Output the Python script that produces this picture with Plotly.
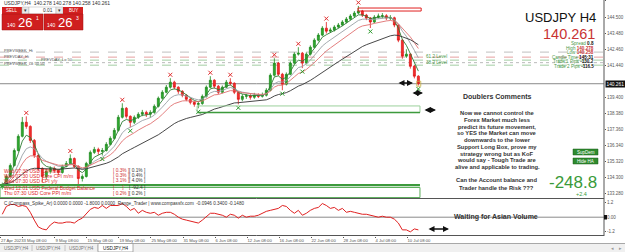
import plotly.graph_objects as go
import pandas as pd

W, H = 625, 252

# ---------------- data (12h candles) ----------------
first_open = 133.70
closes = [133.86, 134.37, 135.07, 136.02, 136.92, 137.81, 137.55, 136.66, 135.71, 134.88,
          134.37, 134.69, 134.88, 134.75, 134.62, 135.01, 135.20, 135.51, 135.01, 134.24,
          134.37, 135.20, 135.90, 136.09, 135.96, 136.02, 136.41, 136.79, 137.30, 138.13,
          138.70, 138.19, 137.81, 138.13, 138.32, 138.44, 138.32, 138.44, 138.83, 139.34,
          139.72, 140.04, 140.36, 140.04, 139.78, 139.53, 139.27, 139.08, 138.95, 139.00,
          139.46, 140.04, 140.48, 140.10, 139.72, 140.04, 140.36, 140.29, 139.72, 139.27,
          139.46, 139.50, 139.40, 139.53, 139.46, 139.53, 139.85, 140.80, 141.57, 140.86,
          140.23, 140.86, 141.57, 142.14, 142.20, 141.57, 142.14, 142.58, 143.03, 143.35,
          143.79, 143.60, 143.67, 143.86, 143.99, 144.18, 144.37, 144.56, 144.75, 144.88,
          144.62, 144.43, 144.18, 144.49, 144.56, 144.58, 144.43, 144.45, 143.99, 143.03,
          142.01, 142.14, 141.37, 140.74, 140.26]
highs = [133.98, 134.50, 135.20, 136.15, 137.05, 138.15, 138.19, 137.62, 136.75, 135.80,
         134.95, 134.85, 135.02, 135.00, 134.85, 135.12, 135.35, 135.77, 135.58, 135.08,
         134.50, 135.30, 136.02, 136.25, 136.20, 136.18, 136.55, 136.92, 137.45, 138.28,
         139.02, 138.78, 138.25, 138.25, 138.45, 138.60, 138.55, 138.58, 138.95, 139.45,
         139.85, 140.18, 140.61, 140.45, 140.10, 139.85, 139.60, 139.35, 139.15, 139.10,
         139.58, 140.15, 140.74, 140.55, 140.18, 140.15, 140.50, 140.61, 140.35, 139.80,
         139.60, 139.62, 139.60, 139.68, 139.65, 139.70, 139.98, 140.92, 141.88, 141.65,
         140.95, 140.98, 141.68, 142.26, 142.58, 142.28, 142.25, 142.70, 143.15, 143.48,
         143.92, 144.18, 143.82, 143.98, 144.12, 144.30, 144.50, 144.68, 144.88, 145.20,
         144.95, 144.70, 144.50, 144.62, 144.72, 144.75, 144.68, 144.62, 144.52, 144.05,
         143.10, 142.45, 142.20, 141.45, 140.80]
lows = [133.55, 133.80, 134.30, 135.00, 135.95, 136.85, 137.40, 136.50, 135.55, 134.70,
        133.99, 134.20, 134.55, 134.60, 134.45, 134.55, 134.95, 135.12, 134.90, 133.86,
        134.05, 134.30, 135.12, 135.80, 135.75, 135.70, 135.95, 136.35, 136.72, 137.22,
        138.05, 138.05, 137.49, 137.70, 138.02, 138.20, 138.15, 138.10, 138.35, 138.75,
        139.25, 139.65, 139.95, 139.90, 139.62, 139.40, 139.15, 138.95, 138.80, 138.70,
        138.92, 139.38, 139.98, 139.95, 139.60, 139.65, 139.98, 140.15, 139.60, 138.95,
        139.15, 139.30, 139.25, 139.30, 139.35, 139.38, 139.45, 139.78, 140.72, 140.75,
        139.85, 140.15, 140.80, 141.50, 142.05, 141.25, 141.50, 142.05, 142.50, 142.95,
        143.28, 143.45, 143.50, 143.58, 143.78, 143.92, 144.10, 144.30, 144.48, 144.68,
        144.50, 144.30, 143.80, 144.10, 144.40, 144.42, 144.30, 144.30, 143.85, 142.90,
        141.85, 141.90, 141.22, 140.60, 140.15]
osc = [0.24, 0.88, 1.04, 1.04, 0.88, 0.96, 0.88, 0.40, -0.24, -0.80,
       -0.96, -1.04, -0.64, -0.40, -0.48, -0.48, -0.40, -0.40, -0.48, -0.24,
       -0.08, 0.24, 0.64, 0.80, 0.72, 0.96, 0.72, 0.96, 0.96, 0.96,
       1.12, 0.88, 0.56, 0.72, 0.32, 0.56, 0.40, 0.32, 0.40, 0.16,
       0.32, 0.40, 0.40, 0.24, 0.00, -0.16, -0.24, -0.32, -0.40, -0.48,
       -0.24, 0.08, 0.32, 0.32, 0.24, 0.16, 0.00, 0.24, 0.16, -0.08,
       0.16, 0.00, 0.08, 0.08, 0.16, 0.32, 0.48, 0.56, 0.64, 0.72,
       0.96, 0.88, 0.56, 0.32, 0.56, 0.16, 0.32, 0.56, 0.72, 0.80,
       1.12, 0.96, 0.72, 0.80, 0.56, 0.72, 0.40, 0.48, 0.40, 0.32,
       0.24, 0.24, 0.16, 0.08, 0.00, 0.08, 0.00, 0.00, -0.16, -0.48,
       -1.04, -1.04, -1.20, -0.96, -1.04]
swing_high_idx = [6, 17, 30, 42, 52, 57, 68, 74, 81, 89]
swing_low_idx = [25, 32, 49, 59, 70, 75, 92, 104]
ma_spans = [4, 8, 13, 30]
ma_colors = ['#2e7d32', '#9aa0a6', '#e07070', '#333333']

bid = 140.261
level_prices = [142.27, 141.95, 141.76, 141.60, 141.44]
level_colors = ['#b0b0b0', '#e08888', '#8cc08c', '#a8a8a8', '#8cc08c']
level_dash = ['dash', 'dash', 'dash', 'dot', 'dash']

price_ticks = [133.28, 134.30, 135.32, 136.34, 137.36, 138.38, 139.40,
               141.44, 142.46, 143.48, 144.50, 145.52]
osc_ticks = [1.2, 0.0, -1.2]
osc_tick_text = ['1.2', '0.00', '-1.2']

tick_dates = ['2023-05-03 08:00', '2023-05-09 08:00', '2023-05-15 08:00', '2023-05-19 08:00',
              '2023-05-25 08:00', '2023-05-31 08:00', '2023-06-06 08:00', '2023-06-12 08:00',
              '2023-06-16 08:00', '2023-06-22 08:00', '2023-06-28 08:00', '2023-07-04 08:00',
              '2023-07-10 08:00']
tick_text = ['3 May 08:00', '9 May 08:00', '15 May 08:00', '19 May 08:00', '25 May 08:00',
             '31 May 08:00', '6 Jun 08:00', '12 Jun 08:00', '16 Jun 08:00', '22 Jun 08:00',
             '28 Jun 08:00', '4 Jul 08:00', '10 Jul 08:00']

news_events = ['Wed 07:30 USD CPI m/m', 'Wed 07:30 USD Core CPI m/m', 'Wed 07:30 USD CPI y/y',
               'Wed 12:01 USD Federal Budget Balance', 'Thu 07:30 USD Core PPI m/m']
news_forecast = ['0.3%', '0.3%', '3.1%', '', '0.2%']
news_previous = ['0.1%', '0.4%', '4.0%', '-92.4', '0.2%']

comment_lines = ['Now we cannot control the', 'Forex Market much less',
                 'predict its future movement,', 'so YES the Market can move',
                 'downwards to the lower', 'Support Long Box, prove my',
                 'strategy wrong but as KoF', 'would say - Tough Trade are',
                 'alive and applicable to trading.']
question_lines = ['Can the Account balance and', 'Trader handle the Risk ???']

# ---------------- geometry ----------------
x_range = [-0.575, 150.4]
y_range = [132.97, 145.58]
o_range = [-1.50, 1.49]
PLOT_R = 604 / W

trade_days = pd.bdate_range('2023-04-28', '2023-07-11')
day_pos = {d.strftime('%Y-%m-%d'): i for i, d in enumerate(trade_days)}


def bar_pos(ts):
    t = pd.Timestamp(ts)
    return 2 * day_pos[t.strftime('%Y-%m-%d')] + t.hour / 12 - 1.5


tickvals = [x_range[0] + 0.1] + [bar_pos(t) for t in tick_dates]
ticktexts = ['27 Apr 2023'] + tick_text

FONT = 'Liberation Sans'

fig = go.Figure()
idx = list(range(len(closes)))
opens = [first_open] + closes[:-1]

fig.add_trace(go.Candlestick(
    x=idx, open=opens, high=highs, low=lows, close=closes,
    increasing=dict(line=dict(color='#1f8a1f', width=0.8), fillcolor='#2fae2f'),
    decreasing=dict(line=dict(color='#e01818', width=0.8), fillcolor='#f23030'),
    whiskerwidth=0, hoverinfo='skip', xaxis='x', yaxis='y'))

s = pd.Series(closes)
for span, col in zip(ma_spans, ma_colors):
    fig.add_trace(go.Scatter(x=idx, y=s.ewm(span=span, adjust=False).mean(), mode='lines',
                             line=dict(color=col, width=0.9), hoverinfo='skip',
                             xaxis='x', yaxis='y'))

fig.add_trace(go.Scatter(x=swing_high_idx, y=[highs[i] + 0.22 for i in swing_high_idx],
                         mode='markers', marker=dict(symbol='x-thin', size=4,
                                                     line=dict(color='#e03030', width=1)),
                         hoverinfo='skip', xaxis='x', yaxis='y'))
fig.add_trace(go.Scatter(x=swing_low_idx, y=[lows[i] - 0.22 for i in swing_low_idx],
                         mode='markers', marker=dict(symbol='x-thin', size=4,
                                                     line=dict(color='#2a9a2a', width=1)),
                         hoverinfo='skip', xaxis='x', yaxis='y'))

fig.add_trace(go.Scatter(x=idx, y=osc, mode='lines', line=dict(color='#e02020', width=1),
                         hoverinfo='skip', xaxis='x2', yaxis='y2'))

shapes = []
annos = []


def prect(x0, y0, x1, y1, fill=None, line=None, lw=1, layer='above'):
    shapes.append(dict(type='rect', xref='paper', yref='paper', x0=x0 / W, x1=x1 / W,
                       y0=1 - y0 / H, y1=1 - y1 / H, fillcolor=fill or 'rgba(0,0,0,0)',
                       line=dict(color=line or 'rgba(0,0,0,0)', width=lw if line else 0),
                       layer=layer))


def pline(x0, y0, x1, y1, color, w=1, dash='solid', layer='above'):
    shapes.append(dict(type='line', xref='paper', yref='paper', x0=x0 / W, x1=x1 / W,
                       y0=1 - y0 / H, y1=1 - y1 / H, line=dict(color=color, width=w, dash=dash),
                       layer=layer))


def txt(x, y, s, size=5.5, color='#333', anchor='left', bold=False, family=FONT, bg=None):
    annos.append(dict(xref='paper', yref='paper', x=x / W, y=1 - y / H,
                      text=f'<b>{s}</b>' if bold else s, showarrow=False, xanchor=anchor,
                      yanchor='middle', font=dict(size=size, color=color, family=family),
                      bgcolor=bg, borderpad=0))


def darrow(x0, x1, y):
    annos.append(dict(xref='paper', yref='paper', x=x1 / W, y=1 - y / H, ax=-(x1 - x0), ay=0,
                      text='', showarrow=True, arrowside='end+start', arrowhead=2,
                      arrowsize=0.8, arrowwidth=1.5, arrowcolor='#111'))


# level lines & bid line
for p, c, d in zip(level_prices, level_colors, level_dash):
    shapes.append(dict(type='line', xref='x domain', yref='y', x0=0, x1=1, y0=p, y1=p,
                       line=dict(color=c, width=0.8, dash=d), layer='below'))
shapes.append(dict(type='line', xref='x domain', yref='y', x0=0, x1=1, y0=bid, y1=bid,
                   line=dict(color='#8a8a8a', width=1), layer='below'))

# object boxes (price / bar coordinates)
shapes.append(dict(type='rect', xref='x', yref='y', x0=88.9, x1=104.7, y0=144.88, y1=145.07,
                   line=dict(color='#e02020', width=1)))
shapes.append(dict(type='rect', xref='x', yref='y', x0=48.7, x1=104.4, y0=138.43, y1=138.85,
                   line=dict(color='#9cd09c', width=1)))
shapes.append(dict(type='line', xref='x', yref='y', x0=48.7, x1=104.4, y0=138.43, y1=138.43,
                   line=dict(color='#3d9a3d', width=1.6)))
shapes.append(dict(type='rect', xref='x', yref='y', x0=-0.575, x1=104.4, y0=133.03, y1=133.67,
                   line=dict(color='#5aad5a', width=1)))
shapes.append(dict(type='line', xref='x', yref='y', x0=-0.575, x1=104.4, y0=133.82, y1=133.82,
                   line=dict(color='#3d9a3d', width=2.2)))
shapes.append(dict(type='rect', xref='x', yref='y', x0=103.6, x1=104.6, y0=140.1, y1=140.42,
                   line=dict(color='#c8b040', width=0.8)))
# zero line in oscillator
shapes.append(dict(type='line', xref='x2 domain', yref='y2', x0=0, x1=1, y0=0, y1=0,
                   line=dict(color='#8a8a8a', width=1), layer='below'))

# panel borders
pline(0, 198.5, 604, 198.5, '#555', 1)
pline(604, 0, 604, 236, '#555', 1)
pline(0, 235.5, 604, 235.5, '#555', 1)

# header
txt(3, 3, 'USDJPY,H4  140.278 140.278 140.258 140.261', 5, '#333')

# one-click trading panel
prect(2, 7, 22, 14, fill='#d42020')
prect(22, 7, 29, 14, fill='#e8e8e8', line='#b0b0b0', lw=0.5)
prect(29, 7, 56, 14, fill='#ffffff', line='#b0b0b0', lw=0.5)
prect(56, 7, 63, 14, fill='#e8e8e8', line='#b0b0b0', lw=0.5)
prect(63, 7, 83, 14, fill='#d42020')
prect(2, 14, 43, 30, fill='#cf1f1f', line='#a01010', lw=0.5)
prect(44, 14, 83, 30, fill='#cf1f1f', line='#a01010', lw=0.5)
txt(12, 10.5, 'SELL', 4.5, 'white', 'center')
txt(25.5, 10.5, '▾', 5, '#333', 'center')
txt(48, 10.5, '0.01', 4.8, '#333', 'center')
txt(59.5, 10.5, '▾', 5, '#333', 'center')
txt(73, 10.5, 'BUY', 4.5, 'white', 'center')
txt(17, 25, '140', 5, 'white', 'right')
txt(17, 22.5, '26', 13, 'white', 'left')
txt(34.5, 18, '1', 5, 'white', 'left')
txt(57, 25, '140', 5, 'white', 'right')
txt(57, 22.5, '26', 13, 'white', 'left')
txt(74.5, 18, '3', 5, 'white', 'left')

# left level labels
txt(3, 50.5, 'PREVWEEK_Hi', 4, '#555')
txt(3, 56, 'PREVDAY_Hi', 4, '#555')
txt(40, 59.5, 'PREVDAY_Lo 50', 4, '#555')
txt(3, 63.5, 'PREVWEEK_Lo 50 50', 4, '#555')
txt(448, 56.5, '61.2 Level', 4.6, '#4a9a4a', 'right')
txt(448, 62, '38.2 Level', 4.6, '#4a9a4a', 'right')

# top-right info
txt(597, 18, 'USDJPY H4', 13, '#111', 'right', family='Liberation Sans')
txt(596, 34.5, '140.261', 14.5, '#c83232', 'right', family='Liberation Sans')
info = [('Spread', '0.8', '#111'), ('High', '140.278', '#c83232'), ('Low', '140.258', '#c83232'),
        ('Candle Time', '145:31', '#111'), ('Trade 1 Pips', '-130.2', '#111'),
        ('Trade 2 Pips', '-116.5', '#111')]
for i, (lab, val, vc) in enumerate(info):
    yy = 43.5 + i * 4.6
    annos.append(dict(xref='paper', yref='paper', x=596 / W, y=1 - yy / H, showarrow=False,
                      xanchor='right', yanchor='middle',
                      text=f"<span style='color:#4a9a4a'>{lab}</span> <b><span style='color:{vc}'>{val}</span></b>",
                      font=dict(size=4.6, family=FONT)))

# comments block
txt(497, 96, 'Doublers Comments', 7, '#333', 'center', bold=True)
for i, line in enumerate(comment_lines):
    txt(497, 113 + i * 6.75, line, 5.8, '#333', 'center', bold=True)
for i, line in enumerate(question_lines):
    txt(496, 180 + i * 7.5, line, 5.8, '#333', 'center', bold=True)

# buttons
prect(573, 149, 598, 155, fill='#2e8b2e', line='#1d5e1d', lw=0.5)
prect(573, 158, 598, 164, fill='#2e8b2e', line='#1d5e1d', lw=0.5)
txt(585.5, 152, 'SupDem', 4.5, 'white', 'center')
txt(585.5, 161, 'Hide HA', 4.5, 'white', 'center')

# P/L
txt(573, 182, '-248.8', 17, '#3a9a3a', 'center', family='Liberation Sans')
txt(581, 194, '+2.4', 5.5, '#3a9a3a', 'center')

# news
news_y = [170.5, 175.5, 180.5, 187.5, 193]
for yy, ev, fc, pv in zip(news_y, news_events, news_forecast, news_previous):
    txt(3, yy, ev, 5, '#e02828')
    txt(112, yy, f'[ {fc} ]' if fc else '[      ]', 4.8, '#d03030')
    txt(128, yy, f'[ {pv} ]', 4.8, '#333')

# arrows
darrow(397, 413, 83)
darrow(411, 423, 93)
darrow(423, 436, 110)
darrow(427, 449, 229)

# indicator texts
txt(3, 203, 'C (Compass_Spike_Ar) 0.0000 0.0000 -1.8000 0.0000  Range_Trader | www.compassfx.com  -0.0946 0.3400 -0.1480',
    4.6, '#333')
txt(496, 217, 'Waiting for Asian Volume', 7, '#333', 'center', bold=True)
prect(604, 215, 607, 219.5, fill='#111')

# current price box on axis
annos.append(dict(xref='paper', yref='y', x=605 / W, y=bid, text='140.261', showarrow=False,
                  xanchor='left', yanchor='middle', bgcolor='#111',
                  font=dict(size=4.8, color='white', family=FONT), borderpad=0.5))

# tabs
prect(0, 243.5, 625, 252, fill='#f0f0f0', layer='below')
pline(0, 243.5, 625, 243.5, '#a8a8a8', 1, layer='below')
for (a, b) in [(0, 32), (32, 65), (65, 98)]:
    pline(b, 245, b, 251, '#b8b8b8', 0.8)
    txt((a + b) / 2, 248.3, 'USDJPY,H4', 4.5, '#777', 'center')
prect(98, 243.5, 133, 252, fill='#ffffff', line='#9a9a9a', lw=0.8)
txt(115.5, 248.3, 'USDJPY,H4', 4.7, '#222', 'center')
txt(612, 248.3, '◂', 5, '#999', 'center')
txt(620, 248.3, '▸', 5, '#999', 'center')

fig.update_layout(
    width=W, height=H, margin=dict(l=0, r=0, t=0, b=0),
    paper_bgcolor='white', plot_bgcolor='white', showlegend=False, hovermode=False,
    shapes=shapes, annotations=annos,
    xaxis=dict(domain=[0, PLOT_R], range=x_range, showticklabels=False, showgrid=False,
               zeroline=False, rangeslider=dict(visible=False), anchor='y', fixedrange=True),
    yaxis=dict(domain=[1 - 198.5 / H, 1], range=y_range, side='right', showgrid=False,
               zeroline=False, tickvals=price_ticks, ticktext=[f'{v:.3f}' for v in price_ticks],
               ticks='outside', ticklen=1, tickcolor='#555',
               tickfont=dict(size=4.5, color='#555', family=FONT), automargin=False,
               anchor='x'),
    xaxis2=dict(domain=[0, PLOT_R], range=x_range, anchor='y2', showgrid=False, zeroline=False,
                tickmode='array', tickvals=tickvals, ticktext=ticktexts, tickangle=0,
                ticklabelposition='outside right', ticks='outside', ticklen=1,
                tickcolor='#555', tickfont=dict(size=4.2, color='#555', family=FONT),
                automargin=False),
    yaxis2=dict(domain=[1 - 235.5 / H, 1 - 199 / H], range=o_range, side='right',
                showgrid=False, zeroline=False, tickvals=osc_ticks, ticktext=osc_tick_text,
                ticks='outside', ticklen=1, tickcolor='#555',
                tickfont=dict(size=4.6, color='#555', family=FONT), automargin=False,
                anchor='x2'),
)

fig.write_html('out.html')
